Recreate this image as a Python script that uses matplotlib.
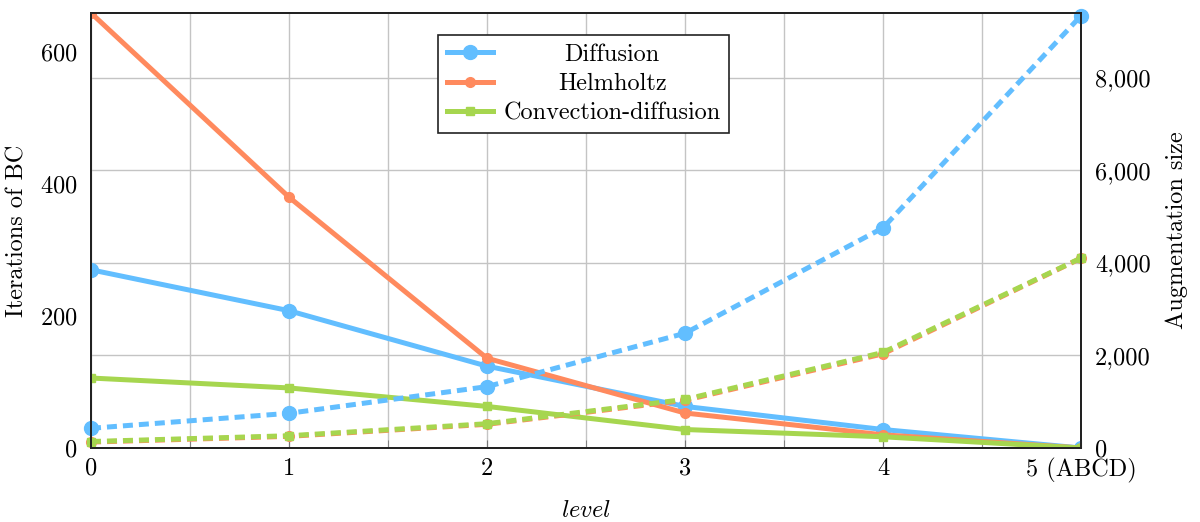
import matplotlib
matplotlib.use("Agg")
import matplotlib.pyplot as plt
from matplotlib.ticker import FuncFormatter, MultipleLocator

FS = 17.5
plt.rcParams['font.family'] = 'cmr10'
plt.rcParams['mathtext.fontset'] = 'cm'
plt.rcParams['axes.formatter.use_mathtext'] = True
plt.rcParams['font.size'] = FS

# levels of the hierarchy
levels = [0, 1, 2, 3, 4, 5]
level_labels = ['0', '1', '2', '3', '4', '5 (ABCD)']

# BC iterations (left axis)
iters_diffusion = [270, 208, 124, 63, 28, 0]
iters_helmholtz = [659, 380, 136, 53, 20, 0]
iters_convdiff = [106, 91, 63, 28, 17, 0]

# augmentation size (right axis)
aug_diffusion = [426, 750, 1326, 2480, 4757, 9340]
aug_helmholtz = [128, 252, 512, 1030, 2035, 4100]
aug_convdiff = [140, 265, 525, 1050, 2065, 4105]

left_ticks = [0, 200, 400, 600]
right_ticks = [0, 2000, 4000, 6000, 8000]

c_blue = '#62BEFF'
c_orange = '#FF8A5E'
c_green = '#A6D64F'
grid_c = '#C4C4C4'

fig = plt.figure(figsize=(12, 5.22), dpi=100)
ax = fig.add_axes([91/1200, 1-448/522, 990/1200, 435/522])
ax2 = ax.twinx()

L_MAX, R_MAX = 659, 9400
ax.set_xlim(0, 5)
ax.set_ylim(0, L_MAX)
ax2.set_ylim(0, R_MAX)

# grid: vertical every half level, horizontal at right-axis ticks
ax.set_xticks(levels)
ax.set_xticklabels(level_labels)
ax.xaxis.set_minor_locator(MultipleLocator(0.5))
ax.grid(True, axis='x', which='both', color=grid_c, lw=1.0, zorder=0)
for v in right_ticks[1:]:
    ax.axhline(v * L_MAX / R_MAX, color=grid_c, lw=1.0, zorder=0)
ax.set_axisbelow(True)

lw = 3.6
h1, = ax.plot(levels, iters_diffusion, color=c_blue, lw=lw, marker='o', ms=10, zorder=3,
              label='Diffusion')
h2, = ax.plot(levels, iters_helmholtz, color=c_orange, lw=lw, marker='o', ms=7, zorder=3,
              label='Helmholtz')
h3, = ax.plot(levels, iters_convdiff, color=c_green, lw=lw, marker='s', ms=5.5, zorder=3,
              label='Convection-diffusion')

dash = (2.0, 1.2)
ax2.plot(levels, aug_diffusion, color=c_blue, lw=lw, ls=(0, dash), marker='o', ms=10,
         clip_on=False)
ax2.plot(levels, aug_helmholtz, color=c_orange, lw=lw, ls=(0, dash), marker='o', ms=7,
         clip_on=False)
ax2.plot(levels, aug_convdiff, color=c_green, lw=lw, ls=(0, dash), marker='s', ms=5.5,
         clip_on=False)

ax.set_yticks(left_ticks)
ax2.set_yticks(right_ticks)
ax2.yaxis.set_major_formatter(FuncFormatter(lambda v, p: f'{v:,.0f}'))

ax.tick_params(axis='x', which='both', direction='in', length=6, color='#777777',
               pad=7, top=False)
ax.tick_params(axis='y', length=0, pad=10)
ax2.tick_params(axis='y', length=0, pad=10)

for a in (ax, ax2):
    for s in a.spines.values():
        s.set_linewidth(1.4)
        s.set_color('#222222')

ax.set_xlabel(r'$\mathit{level}$', labelpad=12)
ax.set_ylabel('Iterations of BC', labelpad=8)
ax2.set_ylabel('Augmentation size', labelpad=11)

leg = ax2.legend(handles=[h1, h2, h3], loc='upper left',
                 bbox_to_anchor=((438-91)/990, (448-35)/435), borderaxespad=0,
                 fancybox=False, framealpha=1, edgecolor='#222222',
                 handlelength=1.9, handletextpad=0.45, labelspacing=0.3,
                 borderpad=0.35, fontsize=FS)
leg.get_frame().set_linewidth(1.2)

# center the legend entries within their column
fig.canvas.draw()
rend = fig.canvas.get_renderer()
texts = leg.get_texts()
bbs = [t.get_window_extent(rend) for t in texts]
xc = (min(b.x0 for b in bbs) + max(b.x1 for b in bbs)) / 2
W, H = fig.bbox.width, fig.bbox.height
for t in texts:
    xy = t.get_transform().transform(t.get_position())
    fig.text(xc / W, xy[1] / H, t.get_text(), ha='center', va='baseline',
             fontsize=FS, zorder=10)
    t.set_alpha(0)

fig.savefig('out.png', dpi=100)
